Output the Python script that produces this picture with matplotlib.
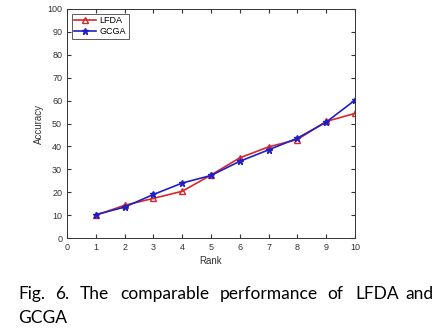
import matplotlib.pyplot as plt
import numpy as np

plt.rcParams['font.family'] = ['Liberation Sans', 'DejaVu Sans']

rank = np.arange(1, 11)
lfda = [9.9, 14.3, 17.3, 20.4, 27.5, 35.0, 39.8, 43.0, 50.9, 54.4]
gcga = [10.2, 13.5, 19.0, 24.0, 27.3, 33.5, 38.5, 43.6, 50.6, 60.2]

fig = plt.figure(figsize=(4.44, 3.32), dpi=100)
ax = fig.add_axes([67/444, 1-238/332, (355-67)/444, (238-9)/332])

ax.plot(rank, lfda, color='#d8262b', marker='^', markerfacecolor='none',
        markersize=5, linewidth=1.2, label='LFDA')
ax.plot(rank, gcga, color='#1f1fc8', marker='*', markersize=4.5,
        linewidth=1.2, label='GCGA')

ax.set_xlim(0, 10)
ax.set_ylim(0, 100)
ax.set_xticks(range(0, 11))
ax.set_yticks(range(0, 101, 10))
ax.tick_params(direction='in', labelsize=6.5, colors='#333333', length=3,
               top=True, right=True, labeltop=False, labelright=False)
for s in ax.spines.values():
    s.set_color('#333333')
    s.set_linewidth(0.7)
ax.set_xlabel('Rank', fontsize=7, color='#333333', labelpad=3)
ax.set_ylabel('Accuracy', fontsize=7, color='#333333', labelpad=2)

leg = ax.legend(loc='upper left', fontsize=6.5, frameon=True, fancybox=False,
                edgecolor='#333333', handlelength=2.4, borderpad=0.3,
                labelspacing=0.2, handletextpad=0.4)
leg.get_frame().set_linewidth(0.7)

# justified caption, placed word by word
words = ['Fig.', '6.', 'The', 'comparable', 'performance', 'of', 'LFDA']
xs = [18, 55, 80, 120, 220, 327, 355]
for w, x in zip(words, xs):
    fig.text(x/444, 1-299/332, w, fontsize=12.5, family='Lato',
             ha='left', va='baseline', color='black')
fig.text(433/444, 1-299/332, 'and', fontsize=12.5, family='Lato',
         ha='right', va='baseline', color='black')
fig.text(18/444, 1-323/332, 'GCGA', fontsize=12.5, family='Lato',
         ha='left', va='baseline', color='black')

fig.savefig('out.png', dpi=100)
